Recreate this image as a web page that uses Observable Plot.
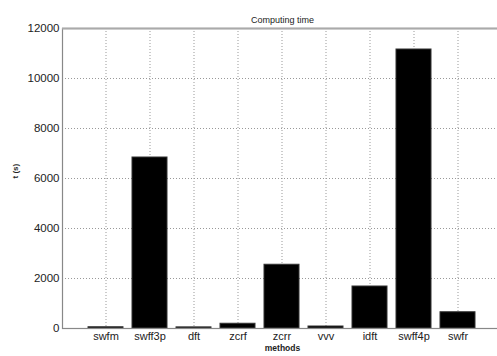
<!DOCTYPE html>
<html>
<head>
<meta charset="utf-8">
<script src="https://cdn.jsdelivr.net/npm/d3@7"></script>
<script src="https://cdn.jsdelivr.net/npm/@observablehq/plot@0.6"></script>
<style>
  html, body { margin: 0; padding: 0; background: #fff; overflow: hidden; }
  #chart svg { display: block; font-family: "Liberation Sans", Arial, sans-serif; }
</style>
</head>
<body>
<div id="chart"></div>
<script>
// Computing time per method, in seconds
const methods = ["swfm", "swff3p", "dft", "zcrf", "zcrr", "vvv", "idft", "swff4p", "swfr"];
const times = [50, 6840, 45, 190, 2550, 80, 1680, 11160, 650];
const yTicks = [0, 2000, 4000, 6000, 8000, 10000, 12000];

const rows = methods.map((m, i) => ({method: m, time: times[i]}));

const W = 497, H = 356;
const axLeft = 62, axRight = 502, axTop = 28, axBottom = 328;

const chart = Plot.plot({
  width: W,
  height: H,
  marginLeft: axLeft,
  marginRight: W - axRight,
  marginTop: axTop,
  marginBottom: H - axBottom,
  style: {background: "#fff", overflow: "hidden"},
  x: {type: "band", domain: methods, range: [axLeft, axRight], paddingInner: 0.2, paddingOuter: 0.6},
  y: {domain: [0, 12000], range: [axBottom, axTop]},
  marks: [
    // dotted grid at every tick
    Plot.gridY(yTicks, {stroke: "#999", strokeOpacity: 1, strokeWidth: 1, strokeDasharray: "1,2"}),
    Plot.gridX(methods, {stroke: "#999", strokeOpacity: 1, strokeWidth: 1, strokeDasharray: "1,2"}),
    Plot.barY(rows, {x: "method", y: "time", fill: "#000", stroke: "#333", strokeWidth: 1}),
    // axes box
    Plot.frame({stroke: "#888", strokeWidth: 1.2}),
    Plot.ruleY([12000], {stroke: "#aaa", strokeWidth: 2}),
    Plot.axisY(yTicks, {tickSize: 0, tickPadding: 3, fontSize: 11.5, fill: "#222", label: null, tickFormat: d => String(d)}),
    Plot.axisX({tickSize: 0, tickPadding: 4, fontSize: 11, fill: "#222", label: null}),
    Plot.text(["Computing time"], {frameAnchor: "top", dy: -12, fontSize: 9, fill: "#222"}),
    Plot.text(["methods"], {frameAnchor: "bottom", dy: 22.5, fontSize: 8.5, fontWeight: "bold", fill: "#222"}),
    Plot.text(["t (s)"], {frameAnchor: "left", dx: -47, rotate: -90, fontSize: 8, fontWeight: "bold", fill: "#222"})
  ]
});

document.getElementById("chart").append(chart);
</script>
</body>
</html>
